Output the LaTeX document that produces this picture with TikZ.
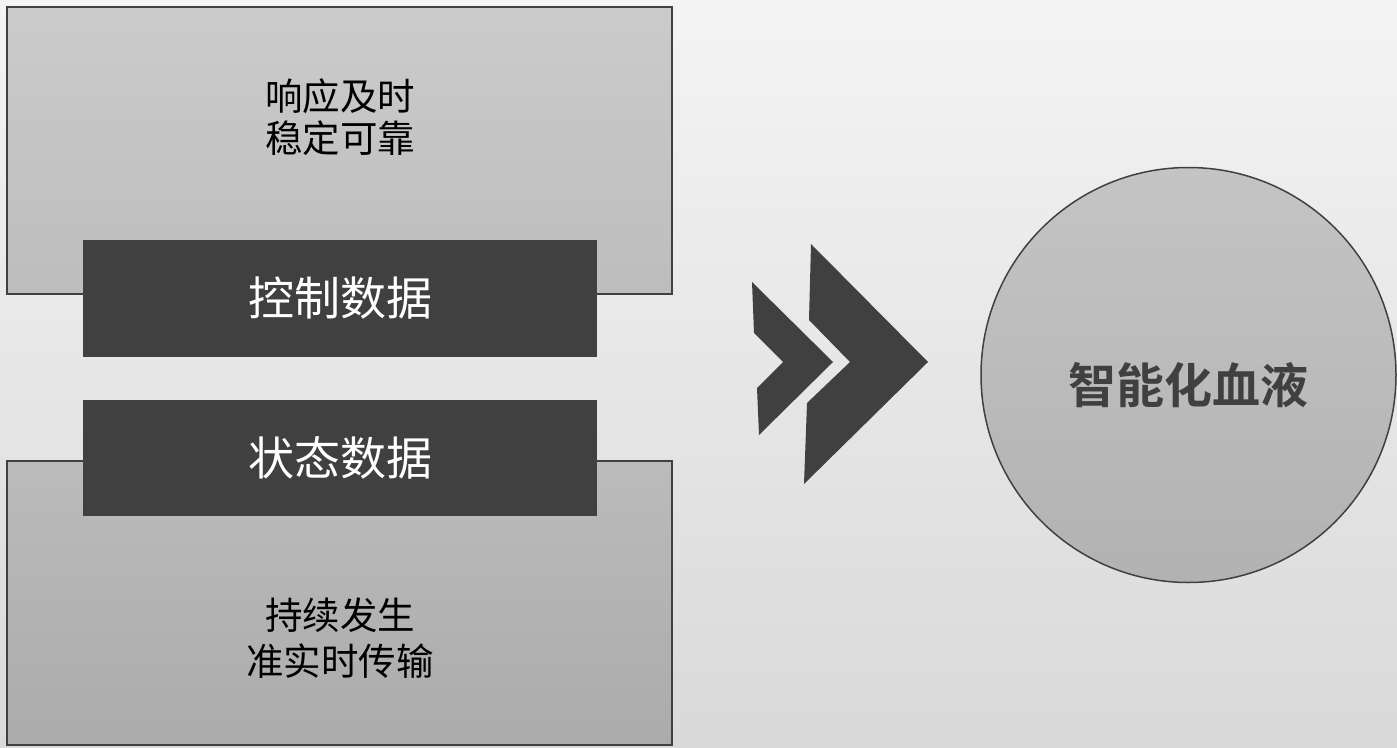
\documentclass[tikz,border=0pt]{standalone}
\usepackage{fontspec}
\setmainfont{Noto Sans CJK SC}
\newfontfamily\cjkbold[BoldFont={Noto Sans CJK SC Bold}]{Noto Sans CJK SC}
\definecolor{darkbox}{HTML}{404040}
\definecolor{bgtop}{HTML}{F4F4F4}
\definecolor{bgbot}{HTML}{D9D9D9}
\definecolor{lbtop}{HTML}{CBCBCB}
\definecolor{lbbot}{HTML}{BDBDBD}
\definecolor{lb2top}{HTML}{BBBBBB}
\definecolor{lb2bot}{HTML}{ABABAB}
\definecolor{circtop}{HTML}{C4C4C4}
\definecolor{circbot}{HTML}{B2B2B2}
\begin{document}
\begin{tikzpicture}[x=1pt,y=-1pt,
  lightbox/.style={draw=darkbox, line width=2pt, rectangle, inner sep=0pt},
  darkrect/.style={fill=darkbox, draw=none, rectangle, inner sep=0pt,
    minimum width=514pt, text=white,
    font=\fontsize{46}{50}\selectfont},
  bodytext/.style={align=center, text=black, inner sep=0pt,
    font=\fontsize{37.5}{42}\selectfont},
  chevron/.style={fill=darkbox, draw=none}]
\useasboundingbox (0,0) rectangle (1397,747);
\shade[top color=bgtop, bottom color=bgbot] (0,0) rectangle (1397,747);
% light boxes
\node[lightbox, top color=lbtop, bottom color=lbbot,
  minimum width=665pt, minimum height=287pt] (topbox) at (339.5,150.5) {};
\node[lightbox, top color=lb2top, bottom color=lb2bot,
  minimum width=665pt, minimum height=284pt] (botbox) at (339.5,603) {};
% texts in light boxes
\node[bodytext] (toptext) at (340,117) {响应及时\\稳定可靠};
\node[bodytext, font=\fontsize{37.5}{46}\selectfont] (bottext) at (340,638) {持续发生\\准实时传输};
% dark boxes
\node[darkrect, minimum height=117pt] (ctrl) at (340,298.5) {控制数据};
\node[darkrect, minimum height=116pt] (state) at (340,458) {状态数据};
% chevrons
\fill[chevron] (752,282) -- (833,362) -- (759,435) -- (757,388) -- (783,362) -- (754,333) -- cycle;
\fill[chevron] (811,244) -- (928,362) -- (804,484) -- (807,403) -- (850,362) -- (809,320) -- cycle;
% circle
\node[circle, draw=darkbox, line width=1.5pt, top color=circtop, bottom color=circbot,
  minimum size=415pt, inner sep=0pt] (blood) at (1188.5,375) {};
\node[text=darkbox, font=\cjkbold\bfseries\fontsize{48}{52}\selectfont, inner sep=0pt]
  (bloodtext) at (1188.5,385) {智能化血液};
\end{tikzpicture}
\end{document}
